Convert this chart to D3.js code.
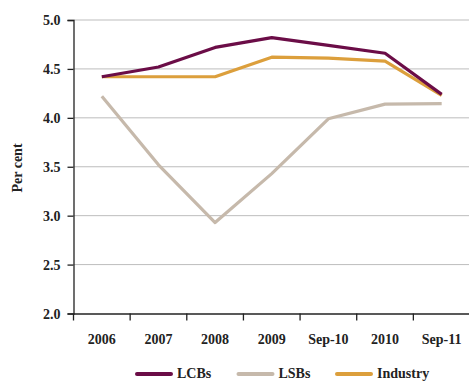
<!DOCTYPE html>
<html><head><meta charset="utf-8">
<script src="https://cdn.jsdelivr.net/npm/d3@7"></script>
<style>
body{margin:0;background:#fff;}
svg{display:block;}
text{font-family:"Liberation Serif","Times New Roman",serif;font-weight:bold;fill:#222;}
</style></head>
<body><svg id="c" width="469" height="381"></svg>
<script>
const categories = ["2006","2007","2008","2009","Sep-10","2010","Sep-11"];
const lcbs =     [4.42, 4.52, 4.72, 4.82, 4.74, 4.66, 4.24];
const lsbs =     [4.22, 3.52, 2.93, 3.43, 3.99, 4.14, 4.145];
const industry = [4.42, 4.42, 4.42, 4.62, 4.61, 4.58, 4.23];
const yTicks = [2.0, 2.5, 3.0, 3.5, 4.0, 4.5, 5.0];
const seriesNames = ["LCBs","LSBs","Industry"];
const colors = ["#6b0d47","#c6b9ab","#dc9f3c"];

(function(){
const svg = d3.select("#c");
const mLeft = 73.5, mRight = 470, mTop = 20, mBottom = 313.5;
const x = d3.scaleBand().domain(categories).range([mLeft, mRight]).paddingInner(0).paddingOuter(0);
const y = d3.scaleLinear().domain([2,5]).range([mBottom, mTop]);

// gridlines
svg.append("g").selectAll("line").data(yTicks.slice(1)).join("line")
  .attr("x1", mLeft).attr("x2", 469)
  .attr("y1", d=>y(d)).attr("y2", d=>y(d))
  .attr("stroke", "#bdbdbd").attr("stroke-width", 1);

// y axis
const ya = svg.append("g").attr("transform", `translate(${mLeft},0)`)
  .call(d3.axisLeft(y).tickValues(yTicks).tickFormat(d3.format(".1f")).tickSize(6).tickPadding(7));
ya.select(".domain").attr("stroke","#222").attr("stroke-width",1.3);
ya.selectAll(".tick line").attr("stroke","#222").attr("stroke-width",1.3);
ya.selectAll("text").attr("font-size",14).attr("fill","#222").attr("font-family",null).attr("dy","0.35em");

// x axis
const xa = svg.append("g").attr("transform", `translate(0,${mBottom})`)
  .call(d3.axisBottom(x).tickSize(0).tickPadding(21));
xa.select(".domain").attr("stroke","#222").attr("stroke-width",1.3);
xa.selectAll("text").attr("font-size",14).attr("fill","#222").attr("font-family",null);
// boundary ticks between bands
svg.append("g").selectAll("line").data(categories).join("line")
  .attr("x1", d=>x(d)).attr("x2", d=>x(d))
  .attr("y1", mBottom).attr("y2", mBottom+7)
  .attr("stroke","#222").attr("stroke-width",1.3);

// y label
svg.append("text").attr("transform","translate(22,168) rotate(-90)")
  .attr("text-anchor","middle").attr("font-size",14).text("Per cent");

// lines
const data = [lcbs, lsbs, industry];
const line = d3.line().x((d,i)=>x(categories[i]) + x.bandwidth()/2).y(d=>y(d));
[1,2,0].forEach(k=>{
  svg.append("path").datum(data[k]).attr("d", line)
    .attr("fill","none").attr("stroke", colors[k]).attr("stroke-width",3.2)
    .attr("stroke-linejoin","round");
});

// legend
const legX = [137, 238.5, 337];
seriesNames.forEach((n,i)=>{
  svg.append("line").attr("x1",legX[i]).attr("x2",legX[i]+34)
    .attr("y1",374).attr("y2",374).attr("stroke",colors[i]).attr("stroke-width",4).attr("stroke-linecap","round");
  svg.append("text").attr("x",legX[i]+40).attr("y",377.5).attr("font-size",14).text(n);
});
})();
</script></body></html>
